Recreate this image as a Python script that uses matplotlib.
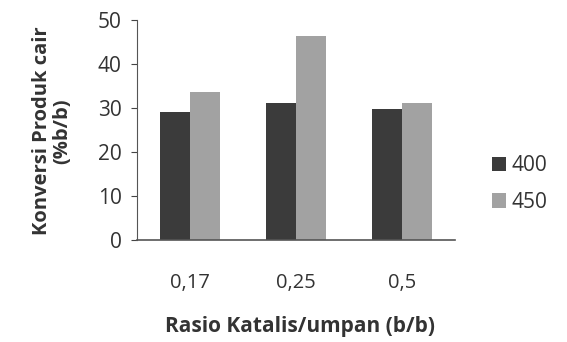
import numpy as np
import matplotlib
matplotlib.use('Agg')
from matplotlib import pyplot as plt

# Data
categories = ['0,17', '0,25', '0,5']
series_names = ['400', '450']
values_400 = [29.1, 31.1, 29.8]
values_450 = [33.6, 46.4, 31.1]
y_ticks = [0, 10, 20, 30, 40, 50]

plt.rcParams['font.family'] = ['Open Sans', 'DejaVu Sans']

fig = plt.figure(figsize=(5.67, 3.42), dpi=100)
ax = fig.add_axes([0.2416, 0.2982, 0.5609, 0.6433])

x = np.arange(len(categories))
w = 0.283
ax.bar(x - w / 2, values_400, width=w, color='#3b3b3b', label=series_names[0])
ax.bar(x + w / 2, values_450, width=w, color='#a2a2a2', label=series_names[1])

ax.set_xlim(-0.5, len(categories) - 0.5)
ax.set_ylim(0, 50)
ax.set_yticks(y_ticks)
ax.set_xticks(x)
ax.set_xticklabels(categories)
ax.tick_params(axis='x', length=0, pad=24, labelsize=14.5, colors='#333333')
ax.tick_params(axis='y', length=4, width=0.8, pad=7, labelsize=15,
               colors='#444444', labelcolor='#333333')

for side in ['top', 'right']:
    ax.spines[side].set_visible(False)
ax.spines['left'].set_color('#555555')
ax.spines['bottom'].set_color('#555555')
ax.spines['bottom'].set_linewidth(1.2)

ax.set_xlabel('Rasio Katalis/umpan (b/b)', fontsize=15, fontweight='bold',
              color='#333333')
ax.xaxis.set_label_coords(0.512, -0.345)
ax.set_ylabel('Konversi Produk cair\n(%b/b)', fontsize=14.5, fontweight='bold',
              color='#333333', linespacing=1.0)
ax.yaxis.set_label_coords(-0.205, 0.495)

ax.legend(loc='center left', bbox_to_anchor=(1.115, 0.255), frameon=False,
          fontsize=15, handlelength=0.7, handleheight=0.7,
          handletextpad=0.25, labelspacing=0.75, labelcolor='#333333',
          borderaxespad=0, borderpad=0)

fig.savefig('out.png', dpi=100)
